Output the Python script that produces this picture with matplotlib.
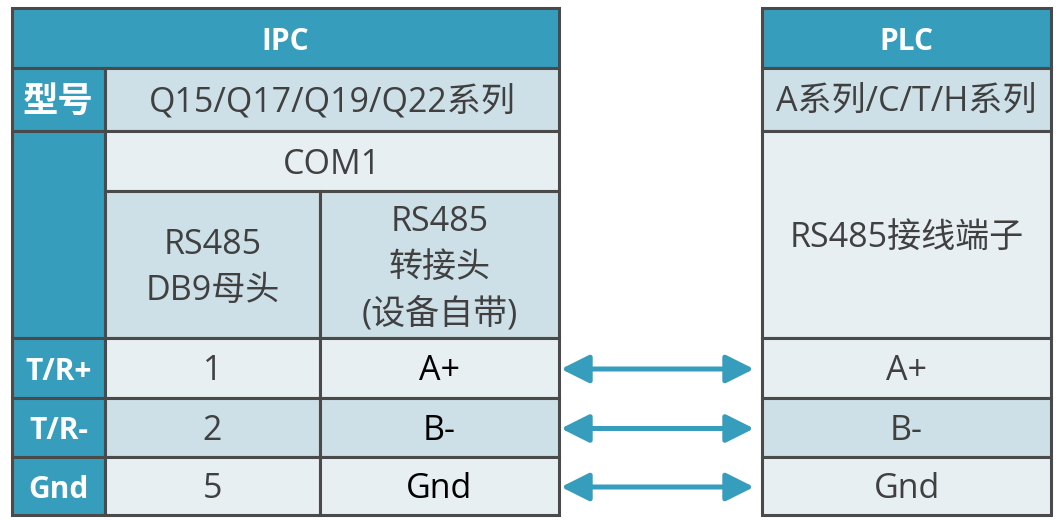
import matplotlib.pyplot as plt
from matplotlib.patches import Rectangle, FancyArrowPatch

plt.rcParams['font.family'] = ['Open Sans', 'Noto Sans CJK SC', 'DejaVu Sans']

# table content
ipc_title = 'IPC'
plc_title = 'PLC'
row_labels = ['型号', '', 'T/R+', 'T/R-', 'Gnd']
ipc_model = 'Q15/Q17/Q19/Q22系列'
plc_model = 'A系列/C/T/H系列'
ipc_port = 'COM1'
ipc_conn = ['RS485\nDB9母头', 'RS485\n转接头\n(设备自带)']
plc_conn = 'RS485接线端子'
db9_pins = ['1', '2', '5']
adapter_pins = ['A+', 'B-', 'Gnd']
plc_pins = ['A+', 'B-', 'Gnd']

# layout (pixels)
xs = [12, 105, 320, 559]
px = [762, 1051]
ys = [8, 68, 131, 191, 338, 398, 457, 515]

TEAL = '#379dbc'
LIGHT = '#e7eff3'
MID = '#cddfe7'
EDGE = '#4a4a4a'
TXT = '#404040'
FS = 24.5
FS_BOLD = 21.5
DY = 3.5

fig = plt.figure(figsize=(10.64, 5.2), dpi=100)
ax = fig.add_axes([0, 0, 1, 1])
ax.set_xlim(0, 1064)
ax.set_ylim(520, 0)
ax.axis('off')


def cell(x0, x1, y0, y1, fill, text='', color=TXT, bold=False, ls=1.2, size=None):
    ax.add_patch(Rectangle((x0, y0), x1 - x0, y1 - y0, facecolor=fill,
                           edgecolor=EDGE, linewidth=2.2, zorder=1))
    if text:
        if size is None:
            size = FS_BOLD if bold else FS
        ax.text((x0 + x1) / 2, (y0 + y1) / 2 + DY, text,
                ha='center', va='center', color=color, fontsize=size,
                fontweight='bold' if bold else 'normal', linespacing=ls,
                zorder=3)


# IPC side
cell(xs[0], xs[3], ys[0], ys[1], TEAL, ipc_title, 'white', True)
cell(xs[0], xs[1], ys[1], ys[2], TEAL, row_labels[0], 'white', True, size=25.5)
cell(xs[1], xs[3], ys[1], ys[2], MID, ipc_model)
cell(xs[0], xs[1], ys[2], ys[4], TEAL, row_labels[1], 'white', True)
cell(xs[1], xs[3], ys[2], ys[3], LIGHT, ipc_port)
cell(xs[1], xs[2], ys[3], ys[4], MID, ipc_conn[0], ls=1.45)
cell(xs[2], xs[3], ys[3], ys[4], MID, ipc_conn[1], ls=1.45)
for i in range(3):
    fill = MID if i == 1 else LIGHT
    y0, y1 = ys[4 + i], ys[5 + i]
    cell(xs[0], xs[1], y0, y1, TEAL, row_labels[2 + i], 'white', True)
    cell(xs[1], xs[2], y0, y1, fill, db9_pins[i])
    cell(xs[2], xs[3], y0, y1, fill, adapter_pins[i], color='black')

# PLC side
cell(px[0], px[1], ys[0], ys[1], TEAL, plc_title, 'white', True)
cell(px[0], px[1], ys[1], ys[2], MID, plc_model)
cell(px[0], px[1], ys[2], ys[4], LIGHT, plc_conn)
for i in range(3):
    fill = MID if i == 1 else LIGHT
    cell(px[0], px[1], ys[4 + i], ys[5 + i], fill, plc_pins[i])

# connection arrows
for i in range(3):
    yc = (ys[4 + i] + ys[5 + i]) / 2 + 1
    arr = FancyArrowPatch((xs[3] + 2, yc), (px[0] - 8, yc),
                          arrowstyle='<|-|>,head_length=17,head_width=8.5',
                          mutation_scale=1, linewidth=3.6, color=TEAL,
                          shrinkA=0, shrinkB=0, zorder=2)
    ax.add_patch(arr)

fig.savefig('out.png', dpi=100)
